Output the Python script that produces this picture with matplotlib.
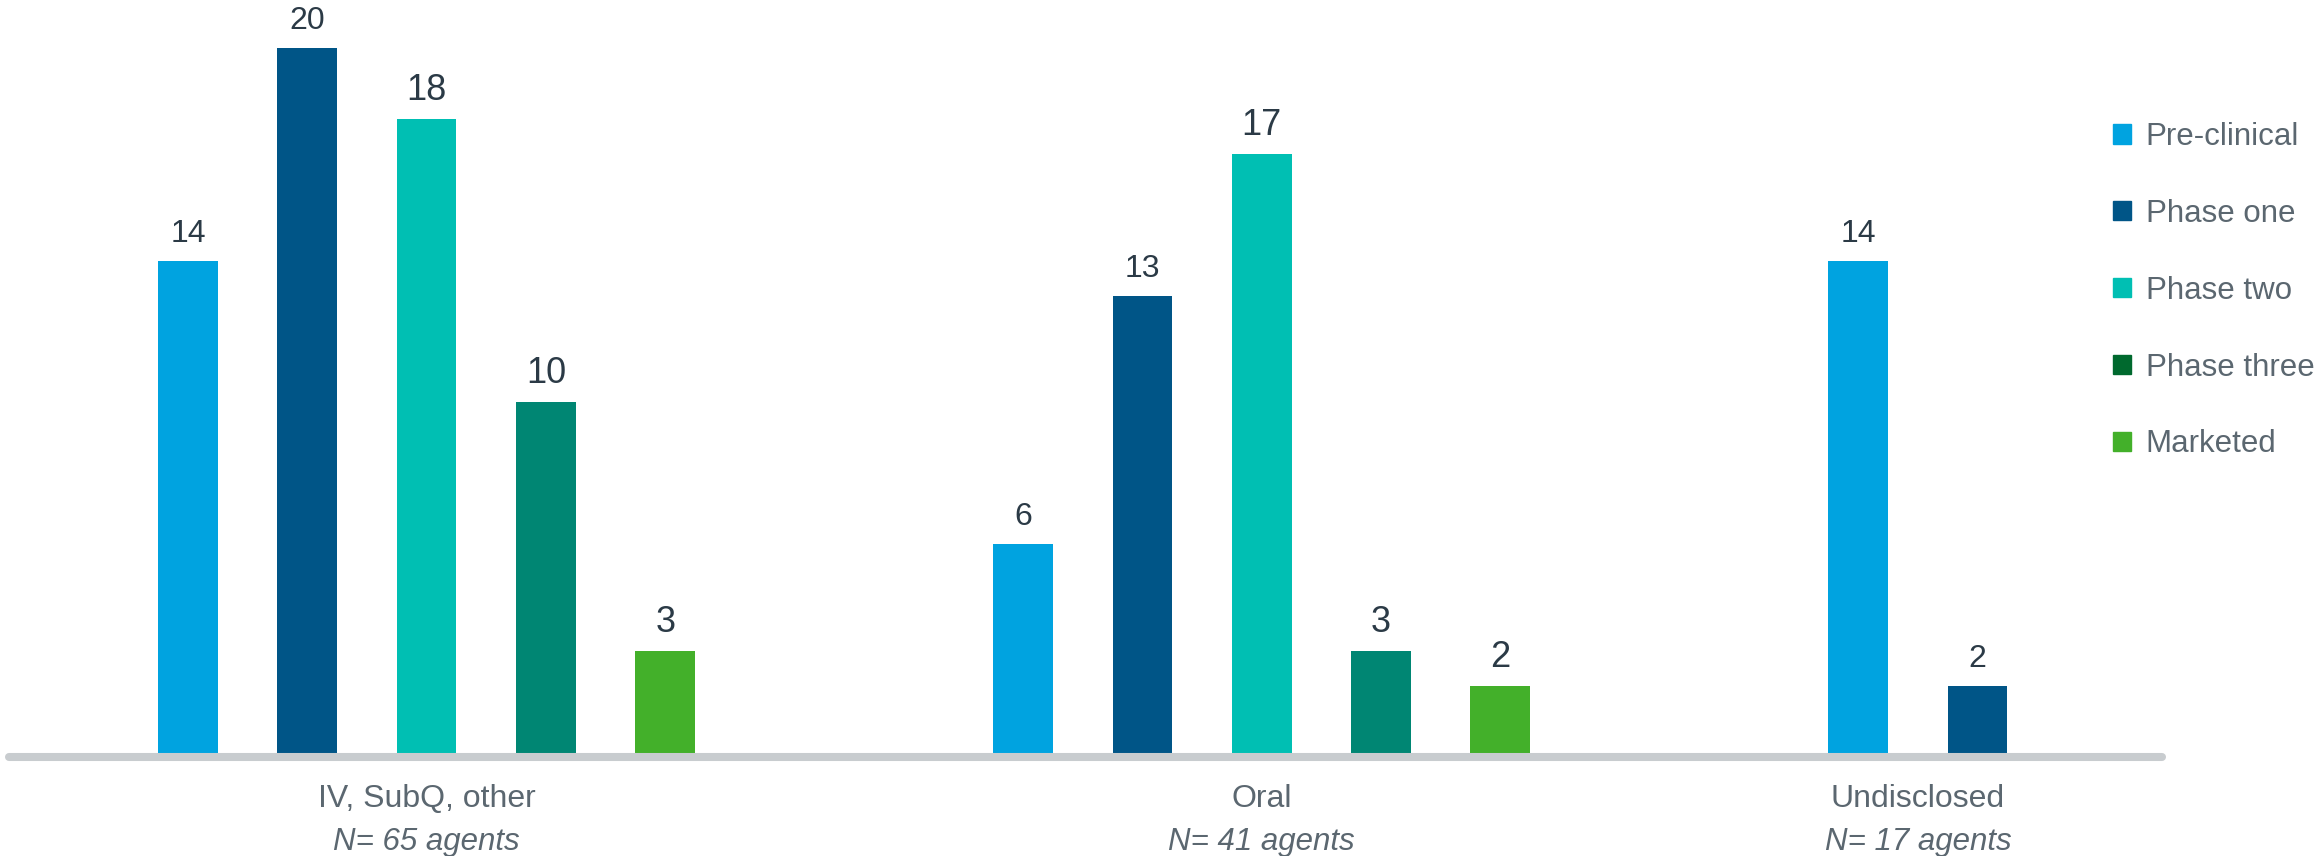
import matplotlib
matplotlib.use("Agg")
import matplotlib.pyplot as plt
from matplotlib.patches import Patch
import numpy as np

plt.rcParams['font.family'] = ['Liberation Sans', 'DejaVu Sans']

categories = ["IV, SubQ, other", "Oral", "Undisclosed"]
agent_counts = ["N= 65 agents", "N= 41 agents", "N= 17 agents"]
series = ["Pre-clinical", "Phase one", "Phase two", "Phase three", "Marketed"]
values = [
    [14, 20, 18, 10, 3],
    [6, 13, 17, 3, 2],
    [14, 2],
]

bar_colors = ["#00A3E0", "#005587", "#00BFB3", "#008673", "#43B02A"]
legend_colors = ["#00A3E0", "#005587", "#00BFB3", "#00692E", "#43B02A"]
label_sizes = [23, 23, 26, 26, 26]
text_dark = "#2B3A46"
text_gray = "#5B6770"

fig = plt.figure(figsize=(23.18, 8.56), dpi=100)
ax = fig.add_axes([0, (856 - 757) / 856, 1, 757 / 856])

group_gap = 7
for g, vals in enumerate(values):
    xs = g * group_gap + np.arange(len(vals)) - 2
    for i, (x, v) in enumerate(zip(xs, vals)):
        ax.bar(x, v, width=0.5, color=bar_colors[i], zorder=2)
        ax.annotate(str(v), (x, v), xytext=(0, 13.7), textcoords="offset points",
                    ha="center", va="baseline", fontsize=label_sizes[i], color=text_dark)
    cx = xs.mean()
    ax.annotate(categories[g], (cx, 0), xytext=(0, -36), textcoords="offset points",
                ha="center", va="baseline", fontsize=23, color=text_gray,
                annotation_clip=False)
    ax.annotate(agent_counts[g], (cx, 0), xytext=(0, -67), textcoords="offset points",
                ha="center", va="baseline", fontsize=22.5, color=text_gray,
                style="italic", annotation_clip=False)

# baseline
ax.plot([-3.5, 14.55], [0, 0], color="#C8CCCF", lw=5.8, solid_capstyle="round",
        zorder=3, clip_on=False)

ax.set_xlim(-3.576, 15.854)
ax.set_ylim(0, 21.35)
ax.axis("off")

handles = [Patch(color=c) for c in legend_colors]
leg = fig.legend(handles, series, loc="upper left",
                 bbox_to_anchor=(2113 / 2318, 1 - 122 / 856),
                 frameon=False, fontsize=22.5, labelcolor=text_gray,
                 handlelength=0.57, handleheight=0.57, handletextpad=0.47,
                 labelspacing=1.5, borderpad=0, borderaxespad=0)

fig.savefig("out.png", dpi=100)
